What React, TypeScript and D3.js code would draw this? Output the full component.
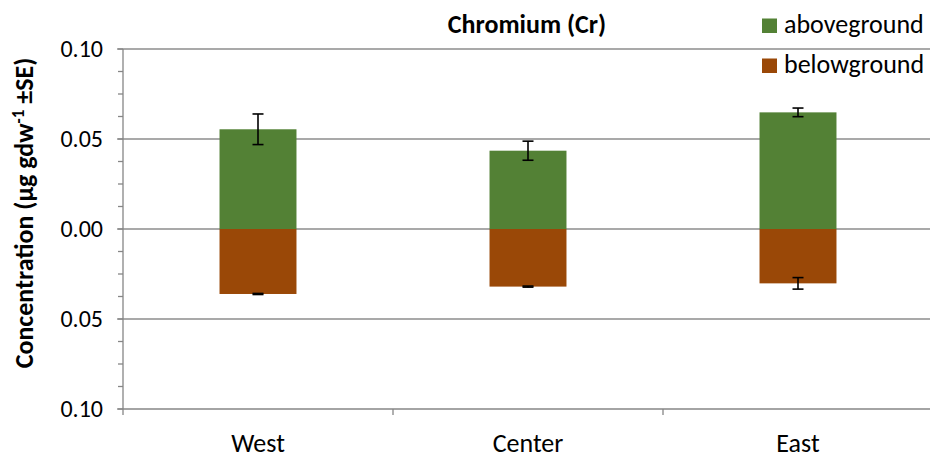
import React from "react";
import * as d3 from "d3";

// Sampling sites along the x axis
const sites = ["West", "Center", "East"];
// Mean Cr concentration (µg gdw⁻¹) and standard errors
const aboveMean = [0.0554, 0.0435, 0.0648];
const aboveSE = [0.0085, 0.0053, 0.0024];
const belowMean = [0.0361, 0.032, 0.0302];
const belowSE = [0.0003, 0.0003, 0.0032];
const yTicks = [-0.1, -0.05, 0, 0.05, 0.1];
const seriesNames = ["aboveground", "belowground"];
const seriesColors = ["#538135", "#9a4807"];

const W = 930;
const H = 458;
const FONT = "Carlito, Calibri, 'Open Sans', sans-serif";

export default function App() {
  const left = 123;
  const right = 933;
  const top = 49;
  const bottom = 409;

  const x = d3.scaleBand<string>().domain(sites).range([left, right]).padding(0);
  const y = d3.scaleLinear().domain([-0.1, 0.1]).range([bottom, top]);
  const barW = x.bandwidth() * 0.285;
  const minorTicks = d3.range(-0.1, 0.1001, 0.0125);
  const fmt = (v: number) => Math.abs(v).toFixed(2);
  const axisColor = "#868686";
  const gridColor = "#8c8c8c";

  return (
    <svg width={W} height={H} style={{ position: "absolute", left: 0, top: 0 }}>
      <rect width={W} height={H} fill="#fff" />
      {/* gridlines at major ticks */}
      {yTicks.filter((t) => t > -0.1).map((t) => (
        <line key={t} x1={left} x2={W} y1={y(t)} y2={y(t)} stroke={gridColor} strokeWidth={1.5} />
      ))}
      {/* bars */}
      {sites.map((s, i) => {
        const cx = (x(s) as number) + x.bandwidth() / 2;
        return (
          <g key={s}>
            <rect x={cx - barW / 2} y={y(aboveMean[i])} width={barW} height={y(0) - y(aboveMean[i])} fill={seriesColors[0]} />
            <rect x={cx - barW / 2} y={y(0)} width={barW} height={y(-belowMean[i]) - y(0)} fill={seriesColors[1]} />
          </g>
        );
      })}
      {/* error bars */}
      {sites.map((s, i) => {
        const cx = (x(s) as number) + x.bandwidth() / 2;
        const bars = [
          [aboveMean[i] + aboveSE[i], aboveMean[i] - aboveSE[i]],
          [-(belowMean[i] - belowSE[i]), -(belowMean[i] + belowSE[i])],
        ];
        return (
          <g key={s} stroke="#000" strokeWidth={1.6}>
            {bars.map(([a, b], k) => (
              <g key={k}>
                <line x1={cx} x2={cx} y1={y(a)} y2={y(b)} />
                <line x1={cx - 5.5} x2={cx + 5.5} y1={y(a)} y2={y(a)} />
                <line x1={cx - 5.5} x2={cx + 5.5} y1={y(b)} y2={y(b)} />
              </g>
            ))}
          </g>
        );
      })}
      {/* y axis */}
      <line x1={left} x2={left} y1={top} y2={bottom} stroke={axisColor} strokeWidth={1.3} />
      {minorTicks.map((t, i) => (
        <line key={i} x1={left - 5} x2={left} y1={y(t)} y2={y(t)} stroke={axisColor} strokeWidth={1.3} />
      ))}
      {yTicks.map((t) => (
        <g key={t}>
          <line x1={left - 6} x2={left} y1={y(t)} y2={y(t)} stroke={axisColor} strokeWidth={1.3} />
          <text x={103} y={y(t) + 8} textAnchor="end" fontFamily={FONT} fontSize={24} fill="#000">
            {fmt(t)}
          </text>
        </g>
      ))}
      {/* x axis */}
      <line x1={left} x2={W} y1={bottom} y2={bottom} stroke={axisColor} strokeWidth={1.3} />
      {sites.map((s) => (
        <line key={s} x1={x(s) as number} x2={x(s) as number} y1={bottom} y2={bottom + 6} stroke={axisColor} strokeWidth={1.3} />
      ))}
      {sites.map((s) => (
        <text key={s} x={(x(s) as number) + x.bandwidth() / 2} y={452} textAnchor="middle" fontFamily={FONT} fontSize={26} fill="#000">
          {s}
        </text>
      ))}
      {/* title */}
      <text x={527} y={33} textAnchor="middle" fontFamily={FONT} fontSize={26} fontWeight="bold" fill="#000">
        Chromium (Cr)
      </text>
      {/* y label */}
      <text transform="translate(33,213) rotate(-90)" textAnchor="middle" fontFamily={FONT} fontSize={26} fontWeight="bold" fill="#000">
        Concentration (µg gdw
        <tspan dy={-9} fontSize={17}>-1</tspan>
        <tspan dy={9}> ±SE)</tspan>
      </text>
      {/* legend */}
      {seriesNames.map((n, i) => (
        <g key={n}>
          <rect x={762} y={18.5 + i * 40} width={15} height={14.5} fill={seriesColors[i]} />
          <text x={784} y={33 + i * 40} fontFamily={FONT} fontSize={26} fill="#000">
            {n}
          </text>
        </g>
      ))}
    </svg>
  );
}
